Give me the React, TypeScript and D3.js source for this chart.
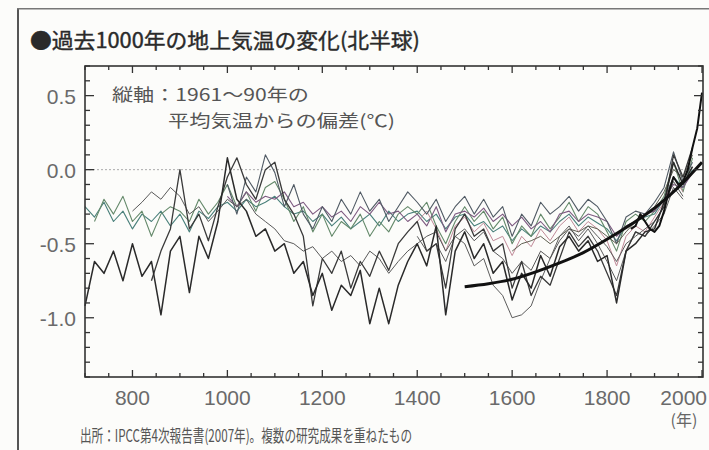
import React from "react";
import * as d3 from "d3";

const W = 709;
const H = 450;
const STEP = 20; // years between readings

// ---- data (anomaly in °C vs 1961-90) ----
const xTickValues = [800, 1000, 1200, 1400, 1600, 1800, 2000];
const yTickValues = [0.5, 0.0, -0.5, -1.0];
const yTickLabels = ["0.5", "0.0", "-0.5", "-1.0"];

// dark, lowest on the left
const mobergStart = 700;
const mobergValues = [
  -0.92, -0.62, -0.7, -0.55, -0.75, -0.5, -0.72, -0.62, -0.98, -0.55,
  -0.45, -0.83, -0.45, -0.6, -0.35, 0.08, -0.2, -0.28, -0.45, -0.4,
  -0.55, -0.5, -0.7, -0.62, -0.85, -0.7, -0.95, -0.78, -0.85, -0.68,
  -1.04, -0.8, -1.04, -0.78, -0.62, -0.5, -0.65, -0.38, -0.98, -0.55,
  -0.42, -0.6, -0.5, -0.7, -0.62, -0.88, -0.7, -0.8, -0.58, -0.72,
  -0.52, -0.45, -0.55, -0.48, -0.62, -0.58, -0.9, -0.55, -0.5, -0.42,
  -0.4, -0.22, 0.05, -0.1, 0.02,
];

const esperStart = 840;
const esperValues = [
  -0.75, -0.55, -0.4, 0.0, -0.4, -0.3, -0.48, -0.25,
  -0.05, 0.08, -0.1, -0.2, 0.0, 0.05, -0.2, -0.3, -0.45, -0.92,
  -0.6, -0.7, -0.55, -0.8, -0.62, -0.72, -0.55, -0.68, -0.5, -0.42,
  -0.35, -0.55, -0.5, -0.8, -0.4, -0.3, -0.45, -0.4, -0.55, -0.5,
  -0.8, -0.62, -0.85, -0.72, -0.78, -0.6, -0.42, -0.52, -0.45, -0.55,
  -0.7, -0.85, -0.55, -0.42, -0.45, -0.35, -0.25, 0.1, -0.05, 0.15,
];

const mannJonesStart = 700;
const mannJonesValues = [
  -0.25, -0.32, -0.22, -0.35, -0.28, -0.4, -0.3, -0.35, -0.28, -0.38,
  -0.3, -0.42, -0.28, -0.33, -0.25, -0.22, -0.28, -0.2, -0.25, -0.22,
  -0.18, -0.25, -0.3, -0.28, -0.35, -0.3, -0.38, -0.32, -0.4, -0.35,
  -0.3, -0.38, -0.28, -0.35, -0.3, -0.28, -0.35, -0.3, -0.4, -0.32,
  -0.3, -0.38, -0.35, -0.42, -0.38, -0.48, -0.4, -0.45, -0.38, -0.42,
  -0.35, -0.3, -0.38, -0.32, -0.36, -0.4, -0.48, -0.38, -0.35, -0.32,
  -0.3, -0.2, -0.05, -0.12, 0.0,
];

const dwjStart = 720;
const dwjValues = [
  -0.35, -0.2, -0.3, -0.18, -0.35, -0.28, -0.45, -0.3, -0.25, -0.28,
  -0.35, -0.2, -0.3, -0.22, -0.1, -0.25, -0.15, -0.28, -0.12, -0.08,
  -0.2, -0.35, -0.25, -0.42, -0.3, -0.45, -0.35, -0.4, -0.3, -0.45,
  -0.35, -0.42, -0.3, -0.25, -0.3, -0.22, -0.38, -0.5, -0.35, -0.25,
  -0.35, -0.28, -0.4, -0.32, -0.5, -0.38, -0.45, -0.3, -0.4, -0.32,
  -0.22, -0.35, -0.25, -0.3, -0.42, -0.55, -0.35, -0.3, -0.35, -0.28,
  -0.18, 0.05, -0.15, 0.08,
];

const hegerlStart = 800;
const hegerlValues = [
  -0.28, -0.22, -0.15, -0.2, -0.12, -0.18, -0.3, -0.25, -0.35, -0.28,
  -0.2, -0.25, -0.2, -0.3, -0.35, -0.4, -0.48, -0.5, -0.55, -0.52,
  -0.6, -0.55, -0.62, -0.58, -0.65, -0.55, -0.6, -0.7, -0.62, -0.55,
  -0.5, -0.45, -0.42, -0.55, -0.45, -0.4, -0.48, -0.42, -0.55, -0.6,
  -0.7, -0.62, -0.68, -0.55, -0.6, -0.48, -0.4, -0.45, -0.38, -0.45,
  -0.52, -0.62, -0.5, -0.45, -0.4, -0.35, -0.25, -0.08, -0.18,
];

const mannStart = 1000;
const mannValues = [
  -0.18, -0.25, -0.15, -0.22, -0.18, -0.2, -0.15, -0.25, -0.22, -0.3,
  -0.25, -0.32, -0.28, -0.35, -0.25, -0.3, -0.22, -0.3, -0.28, -0.35,
  -0.3, -0.38, -0.25, -0.42, -0.3, -0.28, -0.32, -0.26, -0.35, -0.3,
  -0.38, -0.32, -0.4, -0.35, -0.42, -0.3, -0.28, -0.35, -0.3, -0.32,
  -0.35, -0.45, -0.38, -0.35, -0.3, -0.28, -0.2, -0.1, -0.12, -0.02,
];

const briffaStart = 1000;
const briffaValues = [
  -0.1, -0.3, -0.05, -0.15, 0.1, -0.02, -0.25, -0.1, -0.3, -0.4,
  -0.25, -0.35, -0.2, -0.3, -0.15, -0.28, -0.2, -0.35, -0.25, -0.15,
  -0.22, -0.3, -0.2, -0.35, -0.25, -0.18, -0.3, -0.2, -0.32, -0.25,
  -0.45, -0.3, -0.38, -0.22, -0.3, -0.25, -0.18, -0.28, -0.2, -0.25,
  -0.35, -0.5, -0.32, -0.28, -0.3, -0.22, -0.12, 0.12, -0.08, 0.05,
];

const rutherfordStart = 1400;
const rutherfordValues = [
  -0.35, -0.28, -0.4, -0.55, -0.38, -0.32, -0.42, -0.36, -0.48, -0.45,
  -0.58, -0.45, -0.52, -0.4, -0.48, -0.38, -0.32, -0.42, -0.35, -0.4,
  -0.48, -0.65, -0.45, -0.38, -0.42, -0.32, -0.22, -0.05, -0.15,
];

const briffa01Start = 1400;
const briffa01Values = [
  -0.45, -0.55, -0.5, -0.62, -0.45, -0.5, -0.65, -0.6, -0.78, -0.85,
  -1.0, -0.98, -0.92, -0.75, -0.6, -0.45, -0.38, -0.48, -0.4, -0.5,
  -0.62, -0.75, -0.55, -0.42, -0.45, -0.38, -0.3, -0.12, -0.2,
];

const oerlemansStart = 1600;
const oerlemansValues = [
  -0.55, -0.5, -0.48, -0.45, -0.5, -0.45, -0.4, -0.42, -0.38, -0.4,
  -0.45, -0.5, -0.42, -0.35, -0.3, -0.25, -0.15, 0.0, -0.05, 0.1,
];

// smooth borehole curve
const boreYears = [1500, 1550, 1600, 1650, 1700, 1750, 1800, 1850, 1900, 1950, 2000];
const boreValues = [-0.79, -0.77, -0.74, -0.69, -0.63, -0.56, -0.47, -0.37, -0.26, -0.12, 0.05];

// instrumental record
const instYears = [1850, 1860, 1870, 1880, 1890, 1900, 1910, 1920, 1930, 1940, 1950, 1960, 1970, 1980, 1990, 2000];
const instValues = [-0.4, -0.38, -0.3, -0.35, -0.4, -0.42, -0.38, -0.28, -0.15, -0.05, -0.1, -0.08, 0.0, 0.15, 0.28, 0.52];

const series = [
  { start: mannJonesStart, values: mannJonesValues, color: "#4a807b", width: 1.1 },
  { start: dwjStart, values: dwjValues, color: "#64896a", width: 1.1 },
  { start: mannStart, values: mannValues, color: "#7d5a80", width: 1.1 },
  { start: rutherfordStart, values: rutherfordValues, color: "#c08a98", width: 1.0 },
  { start: briffaStart, values: briffaValues, color: "#505a64", width: 1.1 },
  { start: oerlemansStart, values: oerlemansValues, color: "#606052", width: 1.0 },
  { start: hegerlStart, values: hegerlValues, color: "#5a5a5a", width: 1.0 },
  { start: briffa01Start, values: briffa01Values, color: "#4a4a4a", width: 0.9 },
  { start: esperStart, values: esperValues, color: "#3a3a3a", width: 1.3 },
  { start: mobergStart, values: mobergValues, color: "#2a2a2a", width: 1.5 },
];

const plot = { left: 85, right: 703, top: 66, bottom: 377 };

export default function App() {
  const x = d3.scaleLinear().domain([700, 2000]).range([plot.left, plot.right - 1]);
  const y = d3.scaleLinear().domain([-1.4, 0.7]).range([plot.bottom, plot.top]);

  const line = d3
    .line<[number, number]>()
    .x((d) => x(d[0]))
    .y((d) => y(d[1]));
  const smooth = d3
    .line<[number, number]>()
    .x((d) => x(d[0]))
    .y((d) => y(d[1]))
    .curve(d3.curveMonotoneX);

  const yMinor = d3.range(-14, 8).map((i) => i / 10);
  const xMinor = d3.range(700, 2001, 50);

  const font = "'Noto Sans CJK JP', 'Liberation Sans', sans-serif";
  const numFont = "'Liberation Sans', Arial, sans-serif";

  return (
    <svg width={W} height={H} style={{ position: "absolute", left: 0, top: 0, background: "#fcfcfa" }}>
      <rect x={0} y={0} width={W} height={H} fill="#fcfcfa" />
      {/* outer frame of the scanned box */}
      <rect x={17} y={8} width={2} height={H - 8} fill="#555" />
      <rect x={17} y={8} width={W - 17} height={1.5} fill="#777" />

      <text x={30} y={48} fontFamily={font} fontSize={21} fontWeight={400} fill="#2a2a2a" stroke="#2a2a2a" strokeWidth={0.4} textLength={390} lengthAdjust="spacingAndGlyphs">
        ●過去1000年の地上気温の変化(北半球)
      </text>

      {/* zero reference line */}
      <line x1={plot.left} x2={plot.right} y1={y(0)} y2={y(0)} stroke="#aaa" strokeWidth={1} strokeDasharray="2,2" />

      {/* reconstructions */}
      {series.map((s, k) => (
        <path
          key={k}
          d={line(s.values.map((v, i) => [s.start + i * STEP, v] as [number, number])) || ""}
          fill="none"
          stroke={s.color}
          strokeWidth={s.width}
          strokeLinejoin="round"
        />
      ))}
      <path
        d={smooth(boreYears.map((yr, i) => [yr, boreValues[i]] as [number, number])) || ""}
        fill="none"
        stroke="#111"
        strokeWidth={3}
      />
      <path
        d={line(instYears.map((yr, i) => [yr, instValues[i]] as [number, number])) || ""}
        fill="none"
        stroke="#111"
        strokeWidth={2}
        strokeLinejoin="round"
      />

      {/* frame */}
      <rect x={plot.left} y={plot.top} width={plot.right - plot.left} height={plot.bottom - plot.top} fill="none" stroke="#333" strokeWidth={1.6} />

      {/* y ticks, both sides, inward */}
      {yMinor.map((v) => {
        const major = Math.abs(v * 2 - Math.round(v * 2)) < 1e-6;
        const len = major ? 9 : 5;
        return (
          <g key={"y" + v}>
            <line x1={plot.left} x2={plot.left + len} y1={y(v)} y2={y(v)} stroke="#333" strokeWidth={1.3} />
            <line x1={plot.right} x2={plot.right - len} y1={y(v)} y2={y(v)} stroke="#333" strokeWidth={1.3} />
          </g>
        );
      })}
      {/* x ticks, top and bottom, inward */}
      {xMinor.map((v) => {
        const major = v % 200 === 0;
        const len = major ? 7 : 4;
        return (
          <g key={"x" + v}>
            <line x1={x(v)} x2={x(v)} y1={plot.bottom} y2={plot.bottom - len} stroke="#333" strokeWidth={1.3} />
            <line x1={x(v)} x2={x(v)} y1={plot.top} y2={plot.top + len} stroke="#333" strokeWidth={1.3} />
          </g>
        );
      })}

      {yTickValues.map((v, i) => (
        <text key={"yl" + i} x={76} y={y(v) + 8} textAnchor="end" fontFamily={numFont} fontSize={21} fill="#6a6a6a">
          {yTickLabels[i]}
        </text>
      ))}
      {xTickValues.map((v) => (
        <text
          key={"xl" + v}
          x={v === 2000 ? 707 : x(v)}
          y={405}
          textAnchor={v === 2000 ? "end" : "middle"}
          fontFamily={numFont}
          fontSize={21}
          fill="#6a6a6a"
        >
          {v}
        </text>
      ))}
      <text x={684} y={426} textAnchor="middle" fontFamily={font} fontSize={16} fill="#666">
        (年)
      </text>

      {/* annotation */}
      <text x={112} y={101} fontFamily={font} fontSize={17} fill="#555" textLength={197} lengthAdjust="spacingAndGlyphs">
        縦軸：1961～90年の
      </text>
      <text x={168} y={127} fontFamily={font} fontSize={17} fill="#555" textLength={227} lengthAdjust="spacingAndGlyphs">
        平均気温からの偏差(℃)
      </text>

      <text x={80} y={442} fontFamily={font} fontSize={17} fill="#555" textLength={332} lengthAdjust="spacingAndGlyphs">
        出所：IPCC第4次報告書(2007年)。複数の研究成果を重ねたもの
      </text>
    </svg>
  );
}
